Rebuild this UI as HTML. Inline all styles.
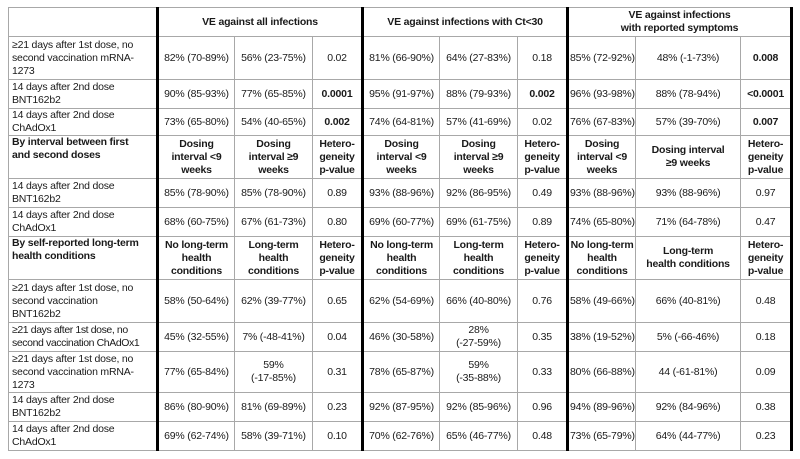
<!DOCTYPE html>
<html><head><meta charset="utf-8"><style>
html,body{margin:0;padding:0;background:#fff;width:800px;height:459px;overflow:hidden}
table{position:absolute;left:8px;top:7px;border-collapse:collapse;table-layout:fixed;width:783px;
font-family:"Liberation Sans",sans-serif;font-size:10.5px;line-height:13px;color:#1a1a1a;letter-spacing:-0.2px}
td{border:1px solid #a8a8a8;padding:0 1px;text-align:center;vertical-align:middle;overflow:hidden;white-space:nowrap}
td.l{text-align:left;padding-left:3px}
.t{border-left:3px solid #000}
.r{border-right:3px solid #000}
b{font-weight:bold}
tr.h td{font-weight:bold}
</style></head><body>
<table>
<colgroup><col style="width:149px"><col style="width:77px"><col style="width:78px"><col style="width:50px"><col style="width:77px"><col style="width:78px"><col style="width:50px"><col style="width:68px"><col style="width:105px"><col style="width:51px"></colgroup>
<tr style="height:29px" class="h"><td class="l"></td><td class="t" colspan="3">VE against all infections</td><td class="t" colspan="3">VE against infections with Ct&lt;30</td><td class="t r" colspan="3">VE against infections<br>with reported symptoms</td></tr>
<tr style="height:43px"><td class="l">≥21 days after 1st dose, no<br>second vaccination mRNA-<br>1273</td><td class="t">82% (70-89%)</td><td>56% (23-75%)</td><td>0.02</td><td class="t">81% (66-90%)</td><td>64% (27-83%)</td><td>0.18</td><td class="t">85% (72-92%)</td><td>48% (-1-73%)</td><td class="r"><b>0.008</b></td></tr>
<tr style="height:29px"><td class="l">14 days after 2nd dose<br>BNT162b2</td><td class="t">90% (85-93%)</td><td>77% (65-85%)</td><td><b>0.0001</b></td><td class="t">95% (91-97%)</td><td>88% (79-93%)</td><td><b>0.002</b></td><td class="t">96% (93-98%)</td><td>88% (78-94%)</td><td class="r"><b>&lt;0.0001</b></td></tr>
<tr style="height:27px"><td class="l">14 days after 2nd dose<br>ChAdOx1</td><td class="t">73% (65-80%)</td><td>54% (40-65%)</td><td><b>0.002</b></td><td class="t">74% (64-81%)</td><td>57% (41-69%)</td><td>0.02</td><td class="t">76% (67-83%)</td><td>57% (39-70%)</td><td class="r"><b>0.007</b></td></tr>
<tr style="height:43px" class="h"><td class="l" style="vertical-align:top">By interval between first<br>and second doses</td><td class="t">Dosing<br>interval &lt;9<br>weeks</td><td>Dosing<br>interval ≥9<br>weeks</td><td>Hetero-<br>geneity<br>p-value</td><td class="t">Dosing<br>interval &lt;9<br>weeks</td><td>Dosing<br>interval ≥9<br>weeks</td><td>Hetero-<br>geneity<br>p-value</td><td class="t">Dosing<br>interval &lt;9<br>weeks</td><td>Dosing interval<br>≥9 weeks</td><td class="r">Hetero-<br>geneity<br>p-value</td></tr>
<tr style="height:29px"><td class="l">14 days after 2nd dose<br>BNT162b2</td><td class="t">85% (78-90%)</td><td>85% (78-90%)</td><td>0.89</td><td class="t">93% (88-96%)</td><td>92% (86-95%)</td><td>0.49</td><td class="t">93% (88-96%)</td><td>93% (88-96%)</td><td class="r">0.97</td></tr>
<tr style="height:29px"><td class="l">14 days after 2nd dose<br>ChAdOx1</td><td class="t">68% (60-75%)</td><td>67% (61-73%)</td><td>0.80</td><td class="t">69% (60-77%)</td><td>69% (61-75%)</td><td>0.89</td><td class="t">74% (65-80%)</td><td>71% (64-78%)</td><td class="r">0.47</td></tr>
<tr style="height:43px" class="h"><td class="l" style="vertical-align:top">By self-reported long-term<br>health conditions</td><td class="t">No long-term<br>health<br>conditions</td><td>Long-term<br>health<br>conditions</td><td>Hetero-<br>geneity<br>p-value</td><td class="t">No long-term<br>health<br>conditions</td><td>Long-term<br>health<br>conditions</td><td>Hetero-<br>geneity<br>p-value</td><td class="t">No long-term<br>health<br>conditions</td><td>Long-term<br>health conditions</td><td class="r">Hetero-<br>geneity<br>p-value</td></tr>
<tr style="height:43px"><td class="l">≥21 days after 1st dose, no<br>second vaccination<br>BNT162b2</td><td class="t">58% (50-64%)</td><td>62% (39-77%)</td><td>0.65</td><td class="t">62% (54-69%)</td><td>66% (40-80%)</td><td>0.76</td><td class="t">58% (49-66%)</td><td>66% (40-81%)</td><td class="r">0.48</td></tr>
<tr style="height:29px"><td class="l" style="letter-spacing:-0.4px">≥21 days after 1st dose, no<br>second vaccination ChAdOx1</td><td class="t">45% (32-55%)</td><td>7% (-48-41%)</td><td>0.04</td><td class="t">46% (30-58%)</td><td>28%<br>(-27-59%)</td><td>0.35</td><td class="t">38% (19-52%)</td><td>5% (-66-46%)</td><td class="r">0.18</td></tr>
<tr style="height:41px"><td class="l">≥21 days after 1st dose, no<br>second vaccination mRNA-<br>1273</td><td class="t">77% (65-84%)</td><td>59%<br>(-17-85%)</td><td>0.31</td><td class="t">78% (65-87%)</td><td>59%<br>(-35-88%)</td><td>0.33</td><td class="t">80% (66-88%)</td><td>44 (-61-81%)</td><td class="r">0.09</td></tr>
<tr style="height:29px"><td class="l">14 days after 2nd dose<br>BNT162b2</td><td class="t">86% (80-90%)</td><td>81% (69-89%)</td><td>0.23</td><td class="t">92% (87-95%)</td><td>92% (85-96%)</td><td>0.96</td><td class="t">94% (89-96%)</td><td>92% (84-96%)</td><td class="r">0.38</td></tr>
<tr style="height:29px"><td class="l">14 days after 2nd dose<br>ChAdOx1</td><td class="t">69% (62-74%)</td><td>58% (39-71%)</td><td>0.10</td><td class="t">70% (62-76%)</td><td>65% (46-77%)</td><td>0.48</td><td class="t">73% (65-79%)</td><td>64% (44-77%)</td><td class="r">0.23</td></tr>
</table>
</body></html>
